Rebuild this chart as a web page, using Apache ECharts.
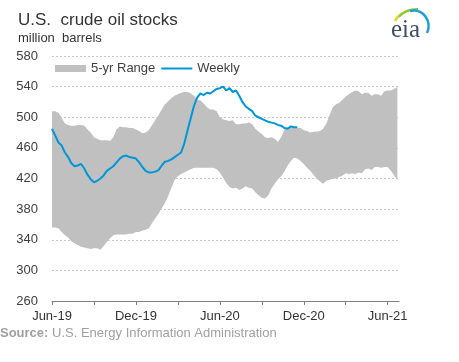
<!DOCTYPE html>
<html>
<head>
<meta charset="utf-8">
<script src="https://cdn.jsdelivr.net/npm/echarts@6/dist/echarts.min.js"></script>
<style>
  html, body { margin: 0; padding: 0; background: #fff; }
  #chart { width: 459px; height: 362px; }
</style>
</head>
<body>
<div id="chart"></div>
<script>
// x positions are week indices counted from the first week of June 2019
const tickLabels = ['Jun-19', 'Dec-19', 'Jun-20', 'Dec-20', 'Jun-21'];
const labelWeeks = [0, 26, 52, 78, 104];
const tickWeeks = [0, 13, 26, 39, 52, 65, 78, 91, 104];

// Weekly U.S. crude oil stocks (million barrels), Jun 2019 - Nov 2020
const weekly = [
  485, 476, 467, 463, 454, 448, 440, 436, 437, 439,
  433, 425, 419, 415, 417, 420, 424, 430, 433, 436,
  441, 446, 449, 450, 448, 447, 446, 441, 435, 430,
  428, 428, 429, 431, 437, 442, 443, 445, 448, 451,
  454, 466, 483, 499, 515, 526, 531, 529, 532, 531,
  534, 537, 538, 540, 535, 538, 533, 535, 528, 520,
  514, 511, 508, 502, 500, 498, 496, 494, 493, 492,
  490, 489, 486, 485, 488, 487, 487
];

// 5-year range, upper bound
const rangeHigh = [
  508, 508, 506, 499, 492, 490, 489, 489, 490, 490,
  489, 484, 480, 474, 472, 470, 470, 470, 469, 474,
  484, 488, 487, 487, 486, 486, 484, 482, 479, 480,
  483, 490, 496, 503, 510, 517, 521, 525, 528, 530,
  532, 533, 533, 531, 528, 523, 522, 518, 513, 510,
  510, 508, 500, 497, 496, 495, 496, 491, 491, 492,
  492, 493, 491, 485, 481, 478, 474, 473, 474, 472,
  468, 474, 484, 487, 487, 487, 486, 486, 483, 482,
  480, 481, 481, 482, 485, 492, 503, 513, 517, 519,
  523, 527, 530, 533, 535, 534, 530, 532, 532, 528,
  530, 530, 528, 534, 535, 535, 537, 540
];

// 5-year range, lower bound
const rangeLow = [
  356, 356, 355, 350, 346, 343, 338, 335, 333, 331,
  330, 329, 328, 329, 329, 327, 332, 337, 342, 346,
  347, 347, 347, 347, 348, 348, 350, 350, 352, 353,
  355, 362, 368, 374, 381, 388, 397, 408, 418, 423,
  426, 428, 430, 432, 434, 434, 434, 434, 434, 434,
  434, 432, 428, 421, 414, 409, 407, 408, 405, 407,
  410, 408, 407, 402, 398, 395, 394, 398, 407, 413,
  419, 423, 429, 437, 443, 447, 446, 443, 439, 434,
  430, 425, 420, 416, 413, 417, 418, 420, 420, 422,
  424, 427, 426, 427, 426, 428, 427, 432, 433, 431,
  435, 435, 434, 435, 435, 430, 424, 418
];

const FONT = '"Liberation Sans", Arial, sans-serif';
const chart = echarts.init(document.getElementById('chart'), null, { renderer: 'canvas' });

const bandData = rangeHigh.map((v, i) => [i, v, rangeLow[i]]);
const weeklyData = weekly.map((v, i) => [i, v]);

function renderBand(params, api) {
  if (params.dataIndexInside !== 0) return null;
  const n = params.dataInsideLength;
  const top = [], bottom = [];
  for (let k = 0; k < n; k++) {
    const x = api.value(0, k);
    top.push(api.coord([x, api.value(1, k)]));
    bottom.push(api.coord([x, api.value(2, k)]));
  }
  const pts = top.concat(bottom.reverse());
  return {
    type: 'polygon',
    shape: { points: pts },
    style: { fill: '#c0c0c0', stroke: null },
    silent: true
  };
}

chart.setOption({
  animation: false,
  backgroundColor: '#ffffff',
  textStyle: { fontFamily: FONT },
  grid: { left: 52, right: 60, top: 56, bottom: 61, containLabel: false },
  legend: {
    left: 55, top: 62,
    itemWidth: 31, itemHeight: 7, itemGap: 5,
    padding: 0,
    textStyle: { fontFamily: FONT, fontSize: 13, color: '#404040' },
    data: [
      { name: '5-yr Range', icon: 'rect', itemStyle: { color: '#c0c0c0' } },
      { name: 'Weekly', itemStyle: { opacity: 0 } }
    ]
  },
  xAxis: {
    type: 'value',
    min: 0, max: 107.5,
    axisLine: { show: true, lineStyle: { color: '#808080', width: 1 } },
    axisTick: { show: true, length: 4, lineStyle: { color: '#808080' }, customValues: tickWeeks },
    axisLabel: {
      customValues: labelWeeks,
      formatter: v => tickLabels[labelWeeks.indexOf(v)] || '',
      fontFamily: FONT, fontSize: 13, color: '#333333', margin: 9
    },
    splitLine: { show: false }
  },
  yAxis: {
    type: 'value',
    min: 260, max: 580, interval: 40,
    axisLine: { show: false },
    axisTick: { show: false },
    axisLabel: { fontFamily: FONT, fontSize: 13, color: '#404040', margin: 14 },
    splitLine: { show: true, lineStyle: { color: '#c8c8c8', type: [2, 2], width: 1 } }
  },
  series: [
    {
      name: '5-yr Range', type: 'custom', data: bandData,
      encode: { x: 0, y: [1, 2] },
      renderItem: renderBand,
      itemStyle: { color: '#c0c0c0' },
      clip: true,
      z: 1
    },
    {
      name: 'Weekly', type: 'line', data: weeklyData,
      symbol: 'none', color: '#0096d7',
      lineStyle: { color: '#0096d7', width: 2 },
      z: 3
    }
  ],
  graphic: [
    {
      type: 'text', left: 18, top: 12,
      style: { text: 'U.S.  crude oil stocks', font: '17px ' + FONT, fill: '#333333' }
    },
    {
      type: 'text', left: 18, top: 32,
      style: { text: 'million  barrels', font: '13px ' + FONT, fill: '#333333' }
    },
    {
      type: 'text', left: 0, top: 327,
      style: {
        text: '{b|Source:} U.S. Energy Information Administration',
        font: '13px ' + FONT, fill: '#a0a0a0',
        rich: { b: { fontWeight: 'bold', fontSize: 13, fontFamily: FONT, fill: '#a0a0a0' } }
      }
    },
    {
      type: 'group',
      children: [
        { type: 'bezierCurve', shape: { x1: 395, y1: 21, x2: 410, y2: 10, cpx1: 398, cpy1: 14 },
          style: { stroke: '#e8d630', lineWidth: 2.5, fill: null } },
        { type: 'bezierCurve', shape: { x1: 399, y1: 17, x2: 418, y2: 9, cpx1: 405, cpy1: 9 },
          style: { stroke: '#8cc63f', lineWidth: 2, fill: null } },
        { type: 'bezierCurve', shape: { x1: 410, y1: 11, x2: 427, y2: 33, cpx1: 424, cpy1: 8, cpx2: 432, cpy2: 22 },
          style: { stroke: '#1ba0d8', lineWidth: 2.5, fill: null } },
        { type: 'text', x: 391, y: 18,
          style: { text: 'eia', font: '25px "Liberation Serif", "DejaVu Serif", serif', fill: '#3d4f63' } }
      ]
    }
  ]
});
</script>
</body>
</html>
